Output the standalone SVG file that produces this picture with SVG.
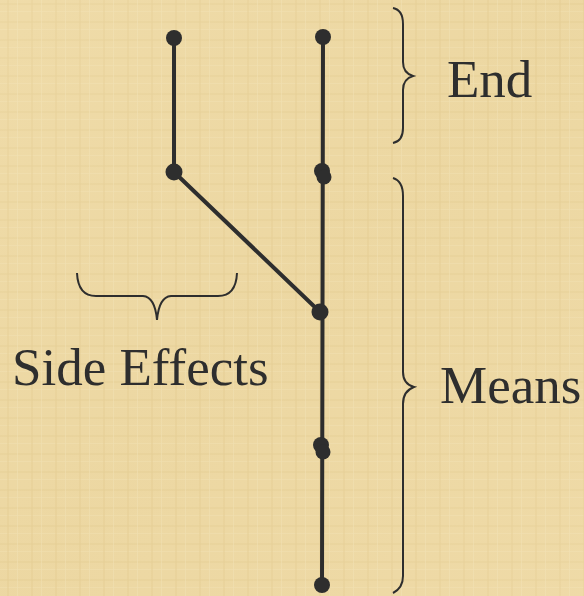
<svg xmlns="http://www.w3.org/2000/svg" width="584" height="596" viewBox="0 0 584 596">
<style>
.edge{stroke:#2e2e2e;stroke-width:4;fill:none;stroke-linecap:round}
.dot{fill:#2e2e2e}
.brace{stroke:#2e2e2e;stroke-width:2;fill:none}
.lbl{font-family:"Liberation Serif","Times New Roman",serif;font-size:53px;fill:#2e2e2e}
</style>
<defs>
<pattern id="pap" width="24" height="18" patternUnits="userSpaceOnUse">
<rect width="24" height="18" fill="#eed9a5"/>
<rect x="0" y="3" width="24" height="2" fill="#e6cf96" opacity="0.6"/>
<rect x="0" y="11" width="24" height="1" fill="#f3e2b6" opacity="0.7"/>
<rect x="7" y="0" width="2" height="18" fill="#e4cc92" opacity="0.5"/>
<rect x="17" y="0" width="1" height="18" fill="#f4e4bb" opacity="0.6"/>
</pattern>
<linearGradient id="tone" x1="0" y1="0" x2="1" y2="1">
<stop offset="0" stop-color="#f1dfae" stop-opacity="0.4"/>
<stop offset="0.5" stop-color="#e9d49c" stop-opacity="0.3"/>
<stop offset="1" stop-color="#f0dcaa" stop-opacity="0.4"/>
</linearGradient>
</defs>
<rect width="584" height="596" fill="url(#pap)"/>
<rect width="584" height="596" fill="url(#tone)"/>
<g id="connectors">
<line class="edge" x1="174" y1="38" x2="174" y2="172"/>
<line class="edge" x1="323" y1="37" x2="322" y2="585"/>
<line class="edge" x1="174" y1="172" x2="320" y2="312"/>
</g>
<g id="n1"><circle class="dot" cx="174" cy="38" r="8"/></g>
<g id="n2"><circle class="dot" cx="174" cy="172" r="8.5"/></g>
<g id="n3"><circle class="dot" cx="323" cy="37" r="8"/></g>
<g id="n4"><circle class="dot" cx="322" cy="171" r="8"/><circle class="dot" cx="324" cy="177" r="7.5"/></g>
<g id="n5"><circle class="dot" cx="320" cy="312" r="8.5"/></g>
<g id="n6"><circle class="dot" cx="321" cy="445" r="8"/><circle class="dot" cx="323" cy="452" r="7.5"/></g>
<g id="n7"><circle class="dot" cx="322" cy="585" r="8"/></g>
<g id="braces">
<path class="brace" d="M393,8 Q403,10 403,24 L403,62 Q403,73 413,76 Q403,79 403,90 L403,128 Q403,141 393,143"/>
<path class="brace" d="M393,178 Q403,181 403,196 L403,372 Q403,384 414,387 Q403,391 403,404 L403,576 Q403,588 393,593"/>
<path class="brace" d="M77,273 Q78,296 96,296 L143,296 Q155,297 157,320 Q159,297 171,296 L218,296 Q236,296 237,273"/>
</g>
<g id="labels">
<text class="lbl" x="447" y="97">End</text>
<text class="lbl" x="440" y="403">Means</text>
<text class="lbl" x="12" y="385">Side Effects</text>
</g>
</svg>
